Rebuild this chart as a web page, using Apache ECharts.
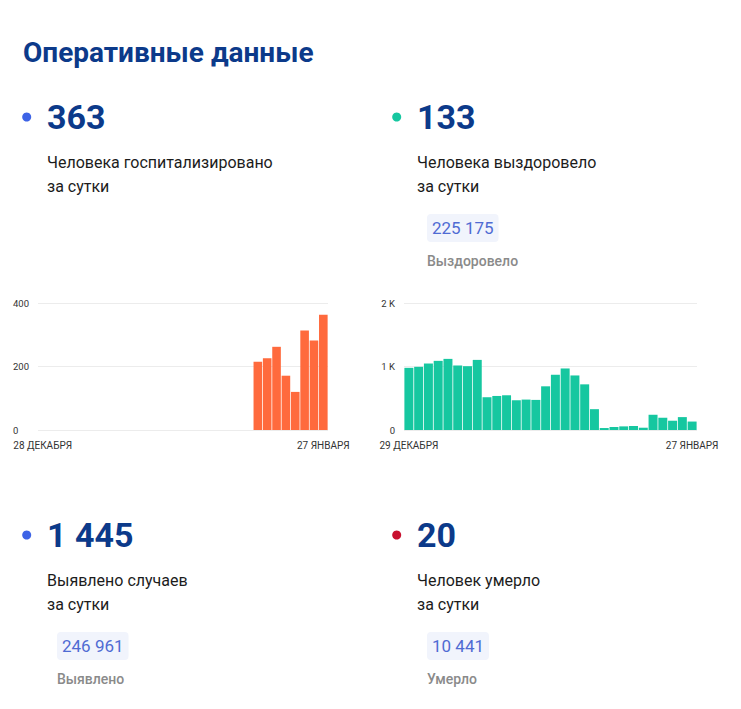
<!DOCTYPE html>
<html><head><meta charset="utf-8">
<script src="https://cdn.jsdelivr.net/npm/echarts@6/dist/echarts.min.js"></script>
<style>html,body{margin:0;padding:0;background:#fff}#c{width:741px;height:709px}</style>
</head><body><div id="c"></div>
<script>
// ---- data ----
const hospDates = ['28 ДЕКАБРЯ','29 ДЕКАБРЯ','30 ДЕКАБРЯ','31 ДЕКАБРЯ','1 ЯНВАРЯ','2 ЯНВАРЯ','3 ЯНВАРЯ','4 ЯНВАРЯ','5 ЯНВАРЯ','6 ЯНВАРЯ','7 ЯНВАРЯ','8 ЯНВАРЯ','9 ЯНВАРЯ','10 ЯНВАРЯ','11 ЯНВАРЯ','12 ЯНВАРЯ','13 ЯНВАРЯ','14 ЯНВАРЯ','15 ЯНВАРЯ','16 ЯНВАРЯ','17 ЯНВАРЯ','18 ЯНВАРЯ','19 ЯНВАРЯ','20 ЯНВАРЯ','21 ЯНВАРЯ','22 ЯНВАРЯ','23 ЯНВАРЯ','24 ЯНВАРЯ','25 ЯНВАРЯ','26 ЯНВАРЯ','27 ЯНВАРЯ'];
const hospValues = [null,null,null,null,null,null,null,null,null,null,null,null,null,null,null,null,null,null,null,null,null,null,null,215,226,262,171,120,313,282,363];
const recovDates = ['29 ДЕКАБРЯ','30 ДЕКАБРЯ','31 ДЕКАБРЯ','1 ЯНВАРЯ','2 ЯНВАРЯ','3 ЯНВАРЯ','4 ЯНВАРЯ','5 ЯНВАРЯ','6 ЯНВАРЯ','7 ЯНВАРЯ','8 ЯНВАРЯ','9 ЯНВАРЯ','10 ЯНВАРЯ','11 ЯНВАРЯ','12 ЯНВАРЯ','13 ЯНВАРЯ','14 ЯНВАРЯ','15 ЯНВАРЯ','16 ЯНВАРЯ','17 ЯНВАРЯ','18 ЯНВАРЯ','19 ЯНВАРЯ','20 ЯНВАРЯ','21 ЯНВАРЯ','22 ЯНВАРЯ','23 ЯНВАРЯ','24 ЯНВАРЯ','25 ЯНВАРЯ','26 ЯНВАРЯ','27 ЯНВАРЯ'];
const recovValues = [979,995,1047,1089,1120,1016,1005,1104,516,536,547,469,479,474,688,870,969,859,719,328,31,47,57,63,36,240,193,146,203,133];
const hospTicks = [0,200,400];
const recovTicks = [0,1000,2000];
const recovTickLabels = ['0','1 K','2 K'];

const titleText = 'Оперативные данные';
const statNumbers = ['363','133','1 445','20'];
const statLine1 = ['Человека госпитализировано','Человека выздоровело','Выявлено случаев','Человек умерло'];
const statLine2 = ['за сутки','за сутки','за сутки','за сутки'];
const totalValues = [null,'225 175','246 961','10 441'];
const totalLabels = [null,'Выздоровело','Выявлено','Умерло'];

// ---- styling / layout ----
const FONT = 'Roboto, "Noto Sans", sans-serif';
const NAVY = '#0c3a8a';
const dotColors = ['#3d63e6','#16c7a0','#3d63e6','#c8102e'];
const colX = [22, 392];      // dot left edges
const rowY = [117, 535];     // headline centre y

const graphic = [];
graphic.push({type:'text', x:23, y:52, style:{text:titleText, font:'700 28px '+FONT, fill:NAVY, verticalAlign:'middle'}});
for (let i = 0; i < 4; i++) {
  const cx = colX[i % 2], cy = rowY[Math.floor(i / 2)];
  graphic.push({type:'circle', shape:{cx:cx+4.7, cy:cy, r:4.5}, style:{fill:dotColors[i]}});
  graphic.push({type:'text', x:cx+25, y:cy, style:{text:statNumbers[i], font:'700 34px '+FONT, fill:NAVY, verticalAlign:'middle'}});
  graphic.push({type:'text', x:cx+25, y:cy+45, style:{text:statLine1[i], font:'400 16px '+FONT, fill:'#1c1c1c', verticalAlign:'middle'}});
  graphic.push({type:'text', x:cx+25, y:cy+69, style:{text:statLine2[i], font:'400 16px '+FONT, fill:'#1c1c1c', verticalAlign:'middle'}});
  if (totalValues[i]) {
    graphic.push({type:'text', x:cx+35, y:cy+111, style:{text:totalValues[i], font:'400 17px '+FONT, fill:'#4f6bd3', verticalAlign:'middle', backgroundColor:'#f1f4fc', padding:[5,5,5,5], borderRadius:4, lineHeight:18}});
    graphic.push({type:'text', x:cx+35, y:cy+144, style:{text:totalLabels[i], font:'500 14px '+FONT, fill:'#8a8a8a', verticalAlign:'middle'}});
  }
}

function xAxisFor(gi, cats) {
  const n = cats.length;
  return {type:'category', gridIndex:gi, data:cats, boundaryGap:true,
    axisLine:{show:false}, axisTick:{show:false},
    axisLabel:{interval:(idx)=> idx===0 || idx===n-1, fontFamily:FONT, fontSize:10, color:'#333', margin:10, hideOverlap:false}};
}

const option = {
  animation:false,
  backgroundColor:'#fff',
  grid:[
    {left:38, right:741-328, top:303, bottom:709-430},
    {left:404, right:741-697, top:303, bottom:709-430}
  ],
  xAxis:[xAxisFor(0, hospDates), xAxisFor(1, recovDates)],
  yAxis:[
    {type:'value', gridIndex:0, min:hospTicks[0], max:hospTicks[hospTicks.length-1], interval:hospTicks[1]-hospTicks[0],
     axisLine:{show:false}, axisTick:{show:false},
     splitLine:{lineStyle:{color:'#ececec', width:1}},
     axisLabel:{align:'left', margin:25, fontFamily:FONT, fontSize:9.5, color:'#333'}},
    {type:'value', gridIndex:1, min:recovTicks[0], max:recovTicks[recovTicks.length-1], interval:recovTicks[1]-recovTicks[0],
     axisLine:{show:false}, axisTick:{show:false},
     splitLine:{lineStyle:{color:'#ececec', width:1}},
     axisLabel:{align:'right', margin:9, fontFamily:FONT, fontSize:9.5, color:'#333',
       formatter:(v)=> recovTickLabels[recovTicks.indexOf(v)]}}
  ],
  series:[
    {type:'bar', xAxisIndex:0, yAxisIndex:0, data:hospValues, barCategoryGap:'8%', itemStyle:{color:'#ff6a3d'}},
    {type:'bar', xAxisIndex:1, yAxisIndex:1, data:recovValues, barCategoryGap:'8%', itemStyle:{color:'#16c7a0'}}
  ],
  graphic:graphic
};
const chart = echarts.init(document.getElementById('c'), null, {renderer:'svg'});
chart.setOption(option);
</script>
</body></html>
